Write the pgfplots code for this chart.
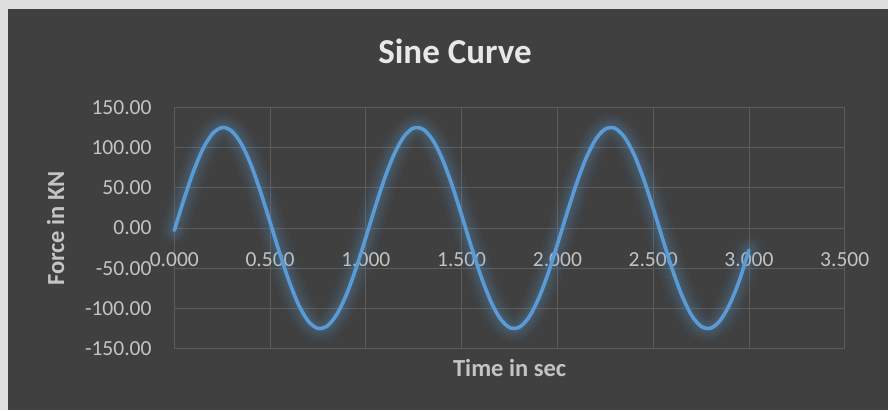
\documentclass[border=0pt]{standalone}
\usepackage{pgfplots}
\pgfplotsset{compat=1.18}
\usepackage{fontspec}
\setmainfont{Carlito}
\usepackage{pgfplotstable}
\definecolor{bgdark}{RGB}{64,64,64}
\definecolor{frame}{RGB}{222,222,222}
\definecolor{gridc}{RGB}{92,92,92}
\definecolor{ticktxt}{RGB}{196,196,196}
\definecolor{titletxt}{RGB}{232,232,232}
\definecolor{lineblue}{RGB}{91,155,213}
\pgfplotstableread{
t y
0.00 -3.00
0.05 35.35
0.10 70.30
0.15 98.58
0.20 117.35
0.25 124.90
0.30 120.48
0.35 104.55
0.40 78.72
0.45 45.16
0.50 7.35
0.55 -31.13
0.60 -66.57
0.65 -95.91
0.70 -115.97
0.75 -124.72
0.80 -121.52
0.85 -106.67
0.90 -81.93
0.95 -49.16
1.00 -11.69
1.05 26.92
1.10 62.95
1.15 92.96
1.20 114.05
1.25 124.23
1.30 122.53
1.35 109.06
1.40 85.33
1.45 53.25
1.50 16.03
1.55 -22.63
1.60 -59.24
1.65 -89.86
1.70 -112.05
1.75 -123.67
1.80 -123.45
1.85 -111.40
1.90 -88.64
1.95 -57.45
2.00 -20.32
2.05 18.36
2.10 55.28
2.15 86.92
2.20 110.19
2.25 122.98
2.30 123.96
2.35 113.03
2.40 91.42
2.45 61.02
2.50 24.56
2.55 -14.04
2.60 -51.38
2.65 -83.75
2.70 -108.24
2.75 -122.21
2.80 -124.46
2.85 -114.89
2.90 -94.51
2.95 -65.14
3.00 -27.50
}\sinedata
\begin{document}
\begin{tikzpicture}[x=1bp,y=1bp]
\fill[frame] (0,0) rectangle (888,410);
\fill[bgdark] (8,0) rectangle (888,401);
\begin{axis}[
  at={(174.3bp,61.3bp)}, anchor=south west,
  scale only axis, width=670.4bp, height=241.4bp,
  xmin=0, xmax=3.5, ymin=-150, ymax=150,
  xtick={0,0.5,1,1.5,2,2.5,3,3.5},
  xticklabels={0.000,0.500,1.000,1.500,2.000,2.500,3.000,3.500},
  ytick={-150,-100,-50,0,50,100,150},
  yticklabels={-150.00,-100.00,-50.00,0.00,50.00,100.00,150.00},
  grid=major,
  major grid style={gridc, line width=0.8bp},
  axis line style={draw=none},
  major tick length=0pt,
  tick label style={font=\fontsize{21.5bp}{24bp}\selectfont, text=ticktxt, inner sep=0pt},
  xticklabel style={anchor=base, yshift=82bp},
  yticklabel style={anchor=east, xshift=-22.6bp},
  clip=false,
]
\addplot[lineblue, opacity=0.05, line width=28bp, smooth, line cap=round, line join=round] table[x=t,y=y] {\sinedata};
\addplot[lineblue, opacity=0.06, line width=21bp, smooth, line cap=round, line join=round] table[x=t,y=y] {\sinedata};
\addplot[lineblue, opacity=0.08, line width=15bp, smooth, line cap=round, line join=round] table[x=t,y=y] {\sinedata};
\addplot[lineblue, opacity=0.10, line width=9bp, smooth, line cap=round, line join=round] table[x=t,y=y] {\sinedata};
\addplot[lineblue, line width=3.6bp, smooth, line cap=round, line join=round] table[x=t,y=y] {\sinedata};
\end{axis}
\node[anchor=base, inner sep=0pt, text=titletxt, font=\fontsize{35bp}{40bp}\selectfont\bfseries] at (455,346.7) {Sine Curve};
\node[anchor=base, inner sep=0pt, text=ticktxt, font=\fontsize{24.5bp}{28bp}\selectfont\bfseries] at (509.6,34) {Time in sec};
\node[anchor=base, rotate=90, inner sep=0pt, text=ticktxt, font=\fontsize{24.5bp}{28bp}\selectfont\bfseries] at (64,181.5) {Force in KN};
\end{tikzpicture}
\end{document}
